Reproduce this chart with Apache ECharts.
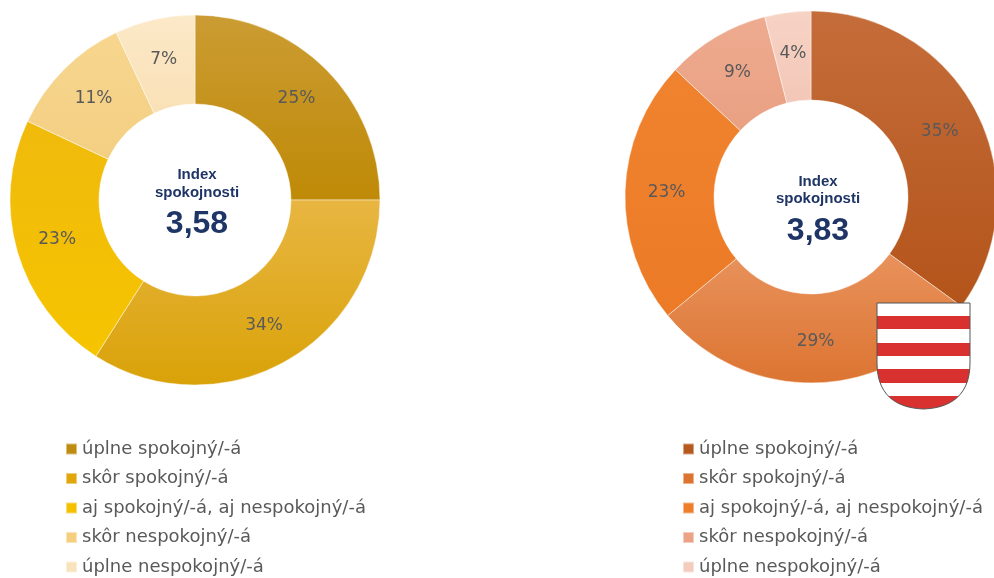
<!DOCTYPE html>
<html>
<head>
<meta charset="utf-8">
<script src="https://cdn.jsdelivr.net/npm/echarts@6/dist/echarts.min.js"></script>
<style>
  html, body { margin: 0; padding: 0; background: #fff; }
  #chart { width: 994px; height: 578px; }
</style>
</head>
<body>
<div id="chart"></div>
<script>
// kategórie odpovedí
var categories = ['úplne spokojný/-á', 'skôr spokojný/-á', 'aj spokojný/-á, aj nespokojný/-á', 'skôr nespokojný/-á', 'úplne nespokojný/-á'];
// podiely v %
var leftValues = [25, 34, 23, 11, 7];
var rightValues = [35, 29, 23, 9, 4];
// index spokojnosti
var leftIndex = '3,58';
var rightIndex = '3,83';

var leftColors = [
  ['#CB9C33', '#BF8A06'],
  ['#E8B642', '#D9A208'],
  ['#F0BA0C', '#F6C400'],
  ['#F7D68F', '#F3CF82'],
  ['#FCE9C8', '#F9E0B6']
];
var leftLegend = ['#BF8C12', '#E0A60A', '#F5C000', '#F5CF7E', '#F9E3BC'];
var rightColors = [
  ['#C56D3A', '#B3541A'],
  ['#E8925C', '#DC7431'],
  ['#F0832F', '#EC7A26'],
  ['#EEAB8F', '#E9A083'],
  ['#F7D3C5', '#F3C7B8']
];
var rightLegend = ['#B5591F', '#DC7330', '#EE7E2A', '#EBA386', '#F3CCBE'];

function grad(c) {
  return new echarts.graphic.LinearGradient(0, 0, 0, 1, [
    { offset: 0, color: c[0] },
    { offset: 1, color: c[1] }
  ]);
}

function pieData(values, colors) {
  var out = [];
  for (var i = 0; i < values.length; i++) {
    out.push({ name: categories[i], value: values[i], itemStyle: { color: grad(colors[i]) } });
  }
  return out;
}

function legendData(colors) {
  return categories.map(function (n, i) {
    return { name: n, itemStyle: { color: colors[i] } };
  });
}

// erb - pruhy
var stripes = [];
for (var s = 0; s < 8; s++) {
  var col = s % 2 === 0 ? '#FFFFFF' : '#D9312F';
  stripes.push({ offset: s / 8, color: col });
  stripes.push({ offset: (s + 1) / 8, color: col });
}

// obrys erbu (rovny vrch, zaobleny spodok)
function bez(p0, p1, p2, p3, t) {
  var u = 1 - t;
  return u * u * u * p0 + 3 * u * u * t * p1 + 3 * u * t * t * p2 + t * t * t * p3;
}
var shieldPts = [[0, 0], [93, 0], [93, 60]];
for (var k = 1; k <= 14; k++) {
  var t = k / 14;
  shieldPts.push([bez(93, 93, 74, 46.5, t), bez(60, 92, 105, 106, t)]);
}
for (var k2 = 1; k2 <= 14; k2++) {
  var t2 = k2 / 14;
  shieldPts.push([bez(46.5, 19, 0, 0, t2), bez(106, 105, 92, 60, t2)]);
}

var labelStyle = {
  show: true,
  position: 'inside',
  formatter: '{c}%',
  color: '#595959',
  fontFamily: 'DejaVu Sans',
  fontSize: 17
};

var legendBase = {
  orient: 'vertical',
  icon: 'rect',
  itemWidth: 11,
  itemHeight: 11,
  itemGap: 11.5,
  height: 160,
  selectedMode: false,
  textStyle: { color: '#595959', fontFamily: 'DejaVu Sans', fontSize: 18 }
};

var navy = '#1F3566';
var smallFont = 'bold 15px "Liberation Sans", Arial';
var bigFont = 'bold 32px "Liberation Sans", Arial';

var option = {
  animation: false,
  legend: [
    Object.assign({}, legendBase, { left: 60, top: 435, data: legendData(leftLegend) }),
    Object.assign({}, legendBase, { left: 677, top: 435, data: legendData(rightLegend) })
  ],
  series: [
    {
      type: 'pie',
      center: [195, 200],
      radius: [96, 185],
      startAngle: 90,
      clockwise: true,
      label: labelStyle,
      labelLine: { show: false },
      itemStyle: { borderColor: 'rgba(255,255,255,0.45)', borderWidth: 1 },
      emphasis: { disabled: true },
      data: pieData(leftValues, leftColors)
    },
    {
      type: 'pie',
      center: [811, 197],
      radius: [97, 186],
      startAngle: 90,
      clockwise: true,
      label: labelStyle,
      labelLine: { show: false },
      itemStyle: { borderColor: 'rgba(255,255,255,0.45)', borderWidth: 1 },
      emphasis: { disabled: true },
      data: pieData(rightValues, rightColors)
    }
  ],
  graphic: [
    { type: 'text', x: 197, y: 175, style: { text: 'Index', fill: navy, font: smallFont, align: 'center', verticalAlign: 'middle' } },
    { type: 'text', x: 197, y: 193, style: { text: 'spokojnosti', fill: navy, font: smallFont, align: 'center', verticalAlign: 'middle' } },
    { type: 'text', x: 197, y: 224, style: { text: leftIndex, fill: navy, font: bigFont, align: 'center', verticalAlign: 'middle' } },
    { type: 'text', x: 818, y: 182, style: { text: 'Index', fill: navy, font: smallFont, align: 'center', verticalAlign: 'middle' } },
    { type: 'text', x: 818, y: 199, style: { text: 'spokojnosti', fill: navy, font: smallFont, align: 'center', verticalAlign: 'middle' } },
    { type: 'text', x: 818, y: 231, style: { text: rightIndex, fill: navy, font: bigFont, align: 'center', verticalAlign: 'middle' } },
    {
      type: 'polygon',
      x: 877, y: 303,
      z: 10,
      shape: { points: shieldPts },
      style: {
        fill: new echarts.graphic.LinearGradient(0, 0, 0, 1, stripes),
        stroke: '#555555',
        lineWidth: 1
      }
    }
  ]
};

var myChart = echarts.init(document.getElementById('chart'));
myChart.setOption(option);
</script>
</body>
</html>
